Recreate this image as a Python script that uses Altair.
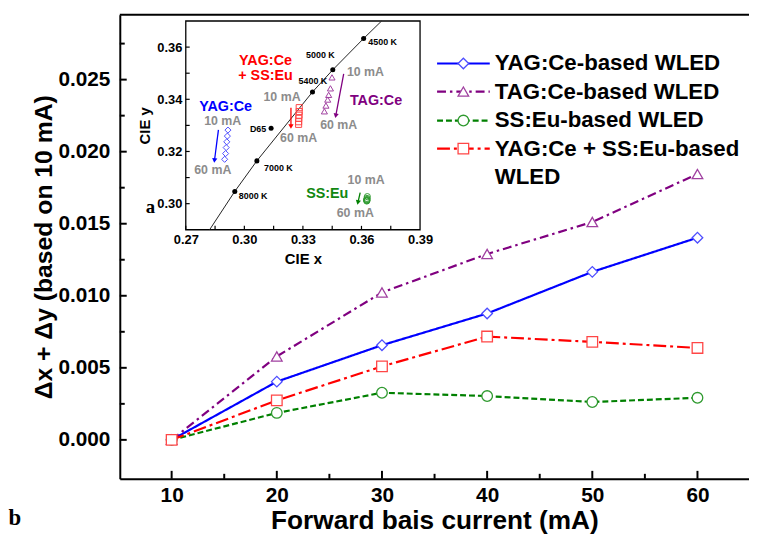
import altair as alt
import pandas as pd

# ---------------- main panel data ----------------
current = [10, 20, 30, 40, 50, 60]
series_names = ["YAG:Ce-based WLED", "TAG:Ce-based WLED", "SS:Eu-based WLED",
                "YAG:Ce + SS:Eu-based WLED"]
yag_shift = [0.0, 0.00404, 0.00657, 0.00877, 0.01166, 0.01403]
tag_shift = [0.0, 0.00579, 0.01023, 0.01290, 0.01512, 0.01845]
sseu_shift = [0.0, 0.00187, 0.00327, 0.00304, 0.00263, 0.00292]
mix_shift = [0.0, 0.00274, 0.00510, 0.00717, 0.00680, 0.00638]

line_colors = ["#0000ff", "#800080", "#008000", "#ff0000"]
marker_colors = ["#4d4dff", "#a040a0", "#2f9a2f", "#ff4646"]
dashes = [[1, 0], [9, 4, 2.5, 4], [6, 3], [13, 4, 3, 4]]
shapes = ["diamond", "triangle-up", "circle", "square"]

x_ticks = [10, 20, 30, 40, 50, 60]
x_minor = [15, 25, 35, 45, 55]
y_ticks = [0.0, 0.005, 0.010, 0.015, 0.020, 0.025]
y_minor = [0.0025, 0.0075, 0.0125, 0.0175, 0.0225, 0.0275]

# legend layout (in main data units)
legend_rows_y = [0.02612, 0.02417, 0.02216, 0.02021]
legend_wrap_y = 0.01826
legend_line_x = [35.24, 40.25]
legend_marker_x = 37.74
legend_text_x = 40.72
legend_texts = ["YAG:Ce-based WLED", "TAG:Ce-based WLED", "SS:Eu-based WLED",
                "YAG:Ce + SS:Eu-based", "WLED"]

# ---------------- inset (CIE) data ----------------
cie_series = {
    "YAG:Ce-based WLED": ([0.2916, 0.2913, 0.2910, 0.2907, 0.2904, 0.2899],
                          [0.3282, 0.3259, 0.3237, 0.3215, 0.3192, 0.3170]),
    "TAG:Ce-based WLED": ([0.3449, 0.3441, 0.3432, 0.3427, 0.3418, 0.3410],
                          [0.3484, 0.3442, 0.3417, 0.3399, 0.3376, 0.3354]),
    "SS:Eu-based WLED": ([0.3630, 0.3628, 0.3626, 0.3627, 0.3628, 0.3629],
                         [0.3027, 0.3020, 0.3014, 0.3010, 0.3012, 0.3016]),
    "YAG:Ce + SS:Eu-based WLED": ([0.3281, 0.3281, 0.3280, 0.3279, 0.3278, 0.3278],
                                  [0.3368, 0.3353, 0.3339, 0.3327, 0.3314, 0.3304]),
}
locus_x = [0.2822, 0.2951, 0.3064, 0.3349, 0.3453, 0.3611, 0.3703]
locus_y = [0.2900, 0.3047, 0.3164, 0.3428, 0.3513, 0.3633, 0.3700]
cct_names = ["8000 K", "7000 K", "D65", "5400 K", "5000 K", "4500 K"]
cct_x = [0.2951, 0.3064, 0.3137, 0.3349, 0.3453, 0.3611]
cct_y = [0.3047, 0.3164, 0.3289, 0.3428, 0.3513, 0.3633]
cct_label_x = [0.30451, 0.31743, 0.30704, 0.33512, 0.33897, 0.37085]
cct_label_y = [0.30300, 0.31373, 0.32867, 0.34687, 0.35684, 0.36204]

arrow_series = ["YAG:Ce-based WLED", "TAG:Ce-based WLED", "YAG:Ce + SS:Eu-based WLED",
                "SS:Eu-based WLED"]
arrow_x0 = [0.28672, 0.35088, 0.32387, 0.35934]
arrow_y0 = [0.32829, 0.34975, 0.33675, 0.30426]
arrow_x1 = [0.28470, 0.34683, 0.32387, 0.35818]
arrow_y1 = [0.31654, 0.33372, 0.32955, 0.30046]
arrow_angle = [7, 11, 0, 13]

ann_text = ["YAG:Ce", "10 mA", "60 mA", "YAG:Ce", "+ SS:Eu", "10 mA", "60 mA",
            "10 mA", "TAG:Ce", "60 mA", "SS:Eu", "10 mA", "60 mA"]
ann_x = [0.29042, 0.28890, 0.28383, 0.31085, 0.31085, 0.31931, 0.32777,
         0.36203, 0.36745, 0.34835, 0.34247, 0.36238, 0.35681]
ann_y = [0.33700, 0.33180, 0.31275, 0.35480, 0.34900, 0.34092, 0.32511,
         0.35040, 0.33929, 0.33019, 0.30388, 0.30896, 0.29629]
ann_color = ["#0000ff", "#8c8c8c", "#8c8c8c", "#ff0000", "#ff0000", "#8c8c8c", "#8c8c8c",
             "#8c8c8c", "#800080", "#8c8c8c", "#118811", "#8c8c8c", "#8c8c8c"]
ann_size = [14.5, 12.5, 12.5, 14.5, 14.5, 12.5, 12.5, 12.5, 14.5, 12.5, 14.5, 12.5, 12.5]

# ---------------- build tables ----------------
rows = []
for name, vals in zip(series_names, [yag_shift, tag_shift, sseu_shift, mix_shift]):
    for c, v in zip(current, vals):
        rows.append({"series": name, "current": c, "shift": v})
main_df = pd.DataFrame(rows)

leg_line_df = pd.DataFrame([{"series": n, "x": lx, "y": ly}
                            for n, ly in zip(series_names, legend_rows_y) for lx in legend_line_x])
leg_mark_df = pd.DataFrame([{"series": n, "x": legend_marker_x, "y": ly}
                            for n, ly in zip(series_names, legend_rows_y)])
leg_text_df = pd.DataFrame({"t": legend_texts, "x": [legend_text_x] * 5,
                            "y": legend_rows_y + [legend_wrap_y]})

W, H = 636, 469


def xs():
    return alt.Scale(domain=[5.07, 64.9], nice=False, zero=False)


def ys():
    return alt.Scale(domain=[-0.0027, 0.0295], nice=False, zero=False)


def ixs():
    return alt.Scale(domain=[0.27, 0.39], range=[66.7, 303.5], nice=False, zero=False)


def iys():
    return alt.Scale(domain=[0.29, 0.37], range=[217.3, 6.3], nice=False, zero=False)


cscale = alt.Scale(domain=series_names, range=line_colors)
dscale = alt.Scale(domain=series_names, range=dashes)
sscale = alt.Scale(domain=series_names, range=shapes)
mscale = alt.Scale(domain=series_names, range=marker_colors)

x_axis = alt.Axis(values=x_ticks, format="d", orient="bottom", ticks=False, domainWidth=2,
                  domainColor="black", labelFontSize=21, labelPadding=6,
                  title="Forward bais current (mA)", titleFontSize=26.5, titlePadding=2)
y_axis = alt.Axis(values=y_ticks, format=".3f", orient="left", ticks=False, domainWidth=2,
                  domainColor="black", labelFontSize=21, labelPadding=10,
                  title="Δx + Δy (based on 10 mA)", titleFontSize=25, titlePadding=1)

lines = alt.Chart(main_df).mark_line(strokeWidth=2.2).encode(
    x=alt.X("current:Q", scale=xs(), axis=x_axis),
    y=alt.Y("shift:Q", scale=ys(), axis=y_axis),
    color=alt.Color("series:N", scale=cscale, legend=None),
    strokeDash=alt.StrokeDash("series:N", scale=dscale, legend=None),
)
points = alt.Chart(main_df).mark_point(filled=True, fill="white", size=115, strokeWidth=1.3,
                                       opacity=1).encode(
    x=alt.X("current:Q", scale=xs(), axis=None),
    y=alt.Y("shift:Q", scale=ys(), axis=None),
    shape=alt.Shape("series:N", scale=sscale, legend=None),
    stroke=alt.Stroke("series:N", scale=mscale, legend=None),
)
leg_lines = alt.Chart(leg_line_df).mark_line(strokeWidth=2.2).encode(
    x=alt.X("x:Q", scale=xs(), axis=None), y=alt.Y("y:Q", scale=ys(), axis=None),
    color=alt.Color("series:N", scale=cscale, legend=None),
    strokeDash=alt.StrokeDash("series:N", scale=dscale, legend=None),
)
leg_marks = alt.Chart(leg_mark_df).mark_point(filled=True, fill="white", size=115,
                                              strokeWidth=1.3, opacity=1).encode(
    x=alt.X("x:Q", scale=xs(), axis=None), y=alt.Y("y:Q", scale=ys(), axis=None),
    shape=alt.Shape("series:N", scale=sscale, legend=None),
    stroke=alt.Stroke("series:N", scale=mscale, legend=None),
)
leg_text = alt.Chart(leg_text_df).mark_text(align="left", baseline="middle", fontSize=22.5,
                                            fontWeight="bold", font="Liberation Sans",
                                            color="black").encode(
    x=alt.X("x:Q", scale=xs(), axis=None), y=alt.Y("y:Q", scale=ys(), axis=None), text="t:N")

letters_df = pd.DataFrame({"t": ["a", "b"], "x": [7.99, -4.9], "y": [0.01613, -0.0054],
                           "fs": [19, 23]})
letters = alt.Chart(letters_df).mark_text(font="Liberation Serif", fontWeight="bold",
                                          baseline="middle", color="black").encode(
    x=alt.X("x:Q", scale=xs(), axis=None), y=alt.Y("y:Q", scale=ys(), axis=None),
    text="t:N", size=alt.Size("fs:Q", scale=None))

xt_major = alt.Chart(pd.DataFrame({"v": x_ticks})).mark_rule(color="black", strokeWidth=2).encode(
    x=alt.X("v:Q", scale=xs(), axis=None), y=alt.value(H), y2=alt.value(H - 8))
xt_minor = alt.Chart(pd.DataFrame({"v": x_minor})).mark_rule(color="black", strokeWidth=2).encode(
    x=alt.X("v:Q", scale=xs(), axis=None), y=alt.value(H), y2=alt.value(H - 5))
yt_major = alt.Chart(pd.DataFrame({"v": y_ticks})).mark_rule(color="black", strokeWidth=2).encode(
    y=alt.Y("v:Q", scale=ys(), axis=None), x=alt.value(0), x2=alt.value(7))
yt_minor = alt.Chart(pd.DataFrame({"v": y_minor})).mark_rule(color="black", strokeWidth=2).encode(
    y=alt.Y("v:Q", scale=ys(), axis=None), x=alt.value(0), x2=alt.value(5))
top_border = alt.Chart(pd.DataFrame({"v": [0]})).mark_rule(color="black", strokeWidth=2).encode(
    x=alt.value(0), x2=alt.value(W), y=alt.value(0))

main_layers = [lines, points, leg_lines, leg_marks, leg_text, letters,
               xt_major, xt_minor, yt_major, yt_minor, top_border]

# ---------------- inset ----------------
ix_axis = alt.Axis(values=[0.27, 0.30, 0.33, 0.36, 0.39], format=".2f", orient="bottom",
                   offset=-(H - 217.3), domain=False, ticks=False, labelFontSize=13,
                   labelPadding=4, title="CIE x", titleFontSize=15, titlePadding=5)
iy_axis = alt.Axis(values=[0.30, 0.32, 0.34, 0.36], format=".2f", orient="left",
                   offset=-66.7, domain=False, ticks=False, labelFontSize=13,
                   labelPadding=4, title="CIE y", titleFontSize=15, titlePadding=4)

frame_df = pd.DataFrame({"x0": [0.27], "x1": [0.39], "y0": [0.29], "y1": [0.37]})
frame = alt.Chart(frame_df).mark_rect(fill="white", stroke="black", strokeWidth=1.3).encode(
    x=alt.X("x0:Q", scale=ixs(), axis=ix_axis), x2="x1:Q",
    y=alt.Y("y0:Q", scale=iys(), axis=iy_axis), y2="y1:Q")

itick_rows = []
for v in [0.27, 0.285, 0.30, 0.315, 0.33, 0.345, 0.36, 0.375]:
    itick_rows.append({"x0": v, "x1": v, "y0": 0.29, "y1": 0.2915})
for v in [0.30, 0.31, 0.32, 0.33, 0.34, 0.35, 0.36]:
    itick_rows.append({"x0": 0.27, "x1": 0.272, "y0": v, "y1": v})
iticks = alt.Chart(pd.DataFrame(itick_rows)).mark_rule(color="black", strokeWidth=1.2).encode(
    x=alt.X("x0:Q", scale=ixs(), axis=None), x2="x1:Q",
    y=alt.Y("y0:Q", scale=iys(), axis=None), y2="y1:Q")

locus = alt.Chart(pd.DataFrame({"x": locus_x, "y": locus_y, "i": range(len(locus_x))})).mark_line(
    color="#222222", strokeWidth=1).encode(
    x=alt.X("x:Q", scale=ixs(), axis=None), y=alt.Y("y:Q", scale=iys(), axis=None), order="i:Q")
cct_pts = alt.Chart(pd.DataFrame({"x": cct_x, "y": cct_y})).mark_circle(
    size=26, color="black", opacity=1).encode(
    x=alt.X("x:Q", scale=ixs(), axis=None), y=alt.Y("y:Q", scale=iys(), axis=None))
cct_lab = alt.Chart(pd.DataFrame({"t": cct_names, "x": cct_label_x, "y": cct_label_y})).mark_text(
    fontSize=9, fontWeight="bold", font="Liberation Sans", color="black", baseline="middle").encode(
    x=alt.X("x:Q", scale=ixs(), axis=None), y=alt.Y("y:Q", scale=iys(), axis=None), text="t:N")

cie_rows = []
for name, (cx, cy) in cie_series.items():
    for a, b in zip(cx, cy):
        cie_rows.append({"series": name, "x": a, "y": b})
cie_pts = alt.Chart(pd.DataFrame(cie_rows)).mark_point(filled=False, size=38, strokeWidth=1,
                                                       opacity=1).encode(
    x=alt.X("x:Q", scale=ixs(), axis=None), y=alt.Y("y:Q", scale=iys(), axis=None),
    shape=alt.Shape("series:N", scale=sscale, legend=None),
    stroke=alt.Stroke("series:N", scale=mscale, legend=None))

arr_rows = []
for s, x0, y0, x1, y1 in zip(arrow_series, arrow_x0, arrow_y0, arrow_x1, arrow_y1):
    arr_rows.append({"series": s, "x": x0, "y": y0, "k": 0})
    arr_rows.append({"series": s, "x": x1, "y": y1, "k": 1})
arrows = alt.Chart(pd.DataFrame(arr_rows)).mark_line(strokeWidth=1.3).encode(
    x=alt.X("x:Q", scale=ixs(), axis=None), y=alt.Y("y:Q", scale=iys(), axis=None),
    color=alt.Color("series:N", scale=cscale, legend=None), order="k:Q")
heads = alt.Chart(pd.DataFrame({"series": arrow_series, "x": arrow_x1, "y": arrow_y1,
                                "ang": arrow_angle})).mark_point(
    shape="triangle-down", filled=True, size=28, opacity=1).encode(
    x=alt.X("x:Q", scale=ixs(), axis=None), y=alt.Y("y:Q", scale=iys(), axis=None),
    color=alt.Color("series:N", scale=cscale, legend=None),
    angle=alt.Angle("ang:Q", scale=None))

ann = alt.Chart(pd.DataFrame({"t": ann_text, "x": ann_x, "y": ann_y, "c": ann_color,
                              "fs": ann_size})).mark_text(
    fontWeight="bold", font="Liberation Sans", baseline="middle").encode(
    x=alt.X("x:Q", scale=ixs(), axis=None), y=alt.Y("y:Q", scale=iys(), axis=None),
    text="t:N", color=alt.Color("c:N", scale=None), size=alt.Size("fs:Q", scale=None))

inset_layers = [frame, iticks, locus, cct_pts, cct_lab, cie_pts, arrows, heads, ann]

chart = alt.layer(*main_layers, *inset_layers).resolve_scale(
    x="independent", y="independent"
).properties(
    width=W, height=H,
    autosize=alt.AutoSizeParams(type="none"),
    padding={"left": 113, "top": 4, "right": 0, "bottom": 56},
).configure_view(stroke=None).configure_axis(
    grid=False, labelFont="Liberation Sans", titleFont="Liberation Sans",
    labelFontWeight="bold", titleFontWeight="bold", labelColor="black",
    titleColor="black", labelFlush=False,
)

chart.save("out.html", embed_options={"renderer": "svg", "actions": False})
